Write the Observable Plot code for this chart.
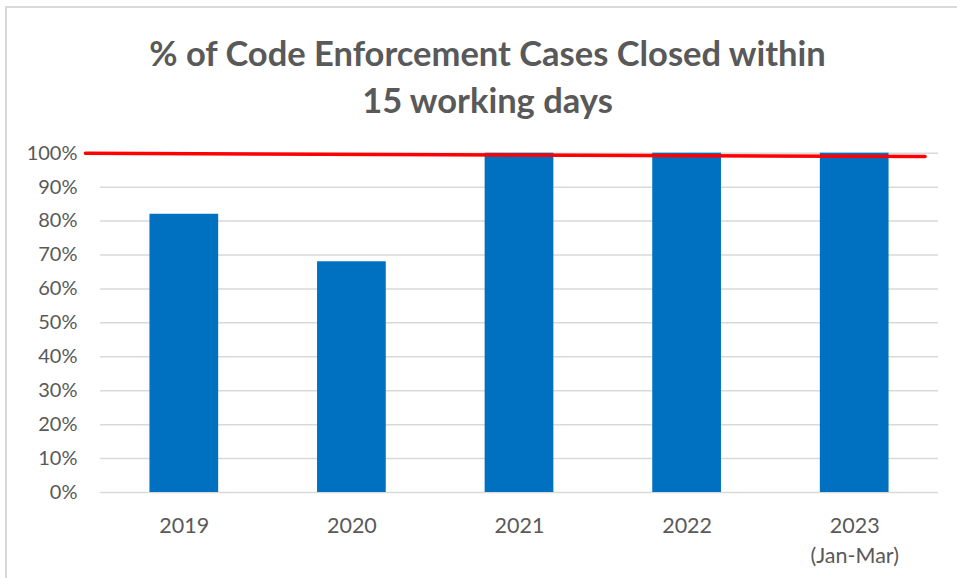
<!DOCTYPE html>
<html>
<head>
<meta charset="utf-8">
<script src="https://cdn.jsdelivr.net/npm/d3@7"></script>
<script src="https://cdn.jsdelivr.net/npm/@observablehq/plot@0.6"></script>
<style>
  html, body { margin: 0; padding: 0; background: #fff; }
  #wrap { position: relative; width: 957px; height: 578px; overflow: hidden; font-family: Lato, "Open Sans", sans-serif; }
  #frame { position: absolute; left: 5px; top: 6px; width: 960px; height: 580px; border-left: 2px solid #d9d9d9; border-top: 2px solid #d9d9d9; box-sizing: border-box; }
  #title { position: absolute; left: 0; top: 29px; width: 975px; text-align: center; font-weight: 700; font-size: 34.5px; line-height: 47px; color: #595959; }
  #chart { position: absolute; left: 0; top: 130px; }
</style>
</head>
<body>
<div id="wrap">
  <div id="frame"></div>
  <div id="title">% of Code Enforcement Cases Closed within<br>15 working days</div>
  <div id="chart"></div>
</div>
<script>
const categories = ["2019", "2020", "2021", "2022", "2023\n(Jan-Mar)"];
const values = [82, 68, 100, 100, 100];
const yTicks = [0, 10, 20, 30, 40, 50, 60, 70, 80, 90, 100];
// red target line (x in category-index units, y in %)
const targetX = [-0.59, 4.42];
const targetY = [100, 99.0];

const bars = categories.map((c, i) => ({i, c, v: values[i]}));
const target = targetX.map((x, k) => ({x, y: targetY[k]}));
const half = 0.205;

const chart = Plot.plot({
  width: 957,
  height: 448,
  marginTop: 22.7,
  marginBottom: 86,
  marginLeft: 100,
  marginRight: 19,
  style: {fontFamily: "Lato, 'Open Sans', sans-serif", fontSize: "20px", color: "#595959", background: "transparent"},
  x: {type: "linear", domain: [-0.5, 4.5]},
  y: {domain: [0, 100]},
  marks: [
    Plot.gridY(yTicks, {stroke: "#d9d9d9", strokeOpacity: 1, strokeWidth: 1.5}),
    Plot.rectY(bars, {x1: d => d.i - half, x2: d => d.i + half, y1: 0, y2: "v", fill: "#0070C0"}),
    Plot.line(target, {x: "x", y: "y", stroke: "#ff0000", strokeWidth: 3.5}),
    Plot.axisY(yTicks, {tickSize: 0, tickPadding: 23, tickFormat: d => d + "%", fill: "#595959", fontSize: 20, label: null}),
    Plot.axisX(d3.range(categories.length), {tickSize: 0, tickPadding: 19, tickFormat: i => categories[i], fill: "#595959", fontSize: 21.5, lineHeight: 1.4, label: null})
  ]
});
document.getElementById("chart").appendChild(chart);
</script>
</body>
</html>
